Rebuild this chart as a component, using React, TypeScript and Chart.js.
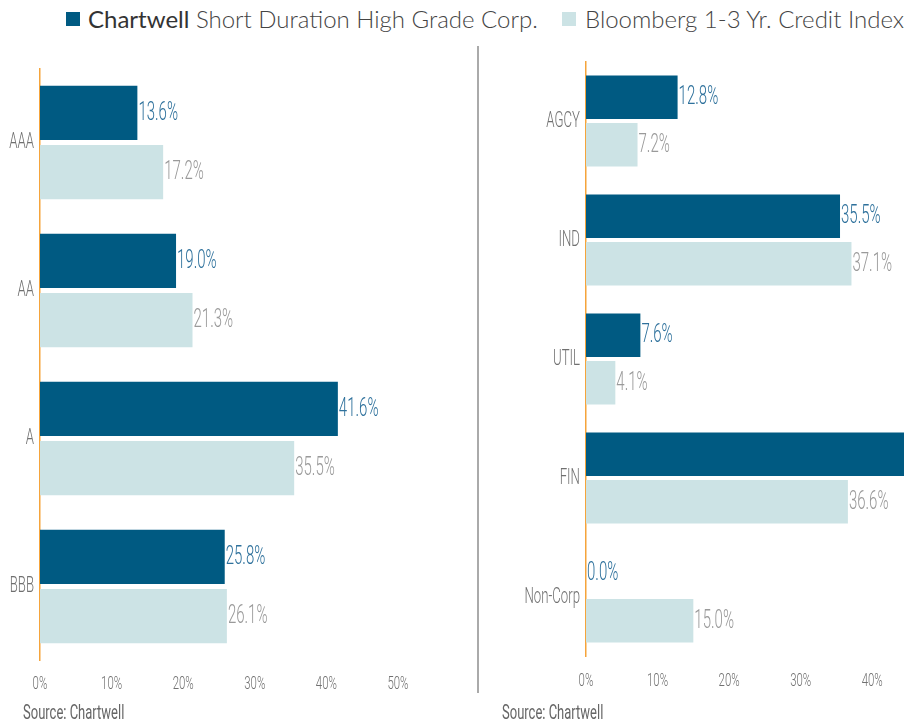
import React, { useEffect, useRef } from "react";
import { Chart, registerables } from "chart.js";

Chart.register(...registerables);

// ---- data ----
const seriesNames = ["Chartwell Short Duration High Grade Corp.", "Bloomberg 1-3 Yr. Credit Index"];
const ratingCategories = ["AAA", "AA", "A", "BBB"];
const ratingChartwell = [13.6, 19.0, 41.6, 25.8];
const ratingBloomberg = [17.2, 21.3, 35.5, 26.1];
const sectorCategories = ["AGCY", "IND", "UTIL", "FIN", "Non-Corp"];
const sectorChartwell = [12.8, 35.5, 7.6, 44.6, 0.0];
const sectorBloomberg = [7.2, 37.1, 4.1, 36.6, 15.0];
const ratingAxisMax = 50;
const sectorAxisMax = 45;
const tickStep = 10;
const sourceText = "Source: Chartwell";

// ---- styles ----
const DARK = "#005A82";
const LIGHT = "#CCE3E5";
const DARK_LABEL = "#2E719C";
const GRAY_LABEL = "#9A9A9A";
const AXIS_TEXT = "#707070";
const AXIS_LINE = "#F5A43B";
const FONT = "Roboto";
const CONDENSE = 0.6;

function condense(ctx: CanvasRenderingContext2D, factor: number) {
  const orig = ctx.fillText.bind(ctx);
  (ctx as any).fillText = (text: string, x: number, y: number) => {
    ctx.save();
    ctx.translate(x, y);
    ctx.scale(factor, 1);
    orig(text, 0, 0);
    ctx.restore();
  };
}

const valueLabels = {
  id: "valueLabels",
  afterDatasetsDraw(chart: any) {
    const ctx = chart.ctx;
    chart.data.datasets.forEach((ds: any, di: number) => {
      const meta = chart.getDatasetMeta(di);
      meta.data.forEach((bar: any, i: number) => {
        const v = ds.data[i];
        ctx.save();
        ctx.font = `300 25px ${FONT}`;
        ctx.fillStyle = di === 0 ? DARK_LABEL : GRAY_LABEL;
        ctx.textAlign = "left";
        ctx.textBaseline = "middle";
        ctx.fillText(v.toFixed(1) + "%", bar.x + 1, bar.y + 1);
        ctx.restore();
      });
    });
  },
};

type PanelProps = {
  categories: string[];
  a: number[];
  b: number[];
  max: number;
  left: number;
  top: number;
  width: number;
  height: number;
  padding: { top: number; right: number; bottom: number; left: number };
  yWidth: number;
  yPad: number;
  xPad: number;
};

function BarPanel(p: PanelProps) {
  const ref = useRef<HTMLCanvasElement>(null);
  useEffect(() => {
    const canvas = ref.current!;
    const ctx = canvas.getContext("2d")!;
    condense(ctx, CONDENSE);
    const chart = new Chart(ctx, {
      type: "bar",
      data: {
        labels: p.categories,
        datasets: [
          { label: seriesNames[0], data: p.a, backgroundColor: DARK, categoryPercentage: 0.8, barPercentage: 0.915 },
          { label: seriesNames[1], data: p.b, backgroundColor: LIGHT, categoryPercentage: 0.8, barPercentage: 0.915 },
        ],
      },
      options: {
        indexAxis: "y",
        responsive: false,
        animation: false,
        layout: { padding: p.padding },
        plugins: { legend: { display: false }, tooltip: { enabled: false } },
        scales: {
          x: {
            min: 0,
            max: p.max,
            grid: { display: false, drawTicks: false },
            border: { display: false },
            ticks: {
              stepSize: tickStep,
              color: AXIS_TEXT,
              padding: p.xPad,
              font: { family: FONT, size: 19, weight: "300" },
              callback: (v: any) => v + "%",
            },
            afterBuildTicks: (s: any) => {
              s.ticks = s.ticks.filter((t: any) => t.value % tickStep === 0);
            },
            afterFit: (s: any) => {
              s.height = 40;
            },
          },
          y: {
            grid: { display: false, drawTicks: false },
            border: { display: true, color: AXIS_LINE, width: 1.5 },
            ticks: {
              color: AXIS_TEXT,
              padding: p.yPad,
              font: { family: FONT, size: 22, weight: "300" },
            },
            afterFit: (s: any) => {
              s.width = p.yWidth;
            },
          },
        },
      } as any,
      plugins: [valueLabels],
    });
    return () => chart.destroy();
  }, []);
  return (
    <canvas
      ref={ref}
      width={p.width}
      height={p.height}
      style={{ position: "absolute", left: p.left, top: p.top, width: p.width, height: p.height }}
    />
  );
}

const legendText: React.CSSProperties = {
  position: "absolute",
  top: 4,
  fontFamily: "Lato",
  fontSize: 24,
  fontWeight: 300,
  color: "#444",
  whiteSpace: "nowrap",
  lineHeight: "30px",
};

export default function App() {
  return (
    <div
      style={{
        position: "fixed",
        left: 0,
        top: 0,
        width: 904,
        height: 719,
        overflow: "hidden",
        background: "#fff",
      }}
    >
      {/* legend */}
      <div style={{ position: "absolute", left: 66, top: 12, width: 14, height: 14, background: DARK }} />
      <div style={{ ...legendText, left: 88 }}>
        <span style={{ fontWeight: 400, color: "#333" }}>Chartwell</span> Short Duration High Grade Corp.
      </div>
      <div style={{ position: "absolute", left: 562, top: 12, width: 14, height: 14, background: LIGHT }} />
      <div style={{ ...legendText, left: 585 }}>{seriesNames[1]}</div>

      {/* divider */}
      <div style={{ position: "absolute", left: 477, top: 46, width: 2, height: 647, background: "#AAAAAA" }} />

      <BarPanel
        categories={ratingCategories}
        a={ratingChartwell}
        b={ratingBloomberg}
        max={ratingAxisMax}
        left={0}
        top={40}
        width={478}
        height={670}
        padding={{ top: 28.5, right: 80, bottom: 9.5, left: 0 }}
        yWidth={40}
        yPad={6}
        xPad={12}
      />
      <BarPanel
        categories={sectorCategories}
        a={sectorChartwell}
        b={sectorBloomberg}
        max={sectorAxisMax}
        left={480}
        top={40}
        width={488}
        height={670}
        padding={{ top: 21.5, right: 60, bottom: 13.5, left: 0 }}
        yWidth={106}
        yPad={6}
        xPad={13}
      />

      {/* sources */}
      {[23, 502].map((x) => (
        <div
          key={x}
          style={{
            position: "absolute",
            left: x,
            top: 700,
            fontFamily: FONT,
            fontSize: 20,
            fontWeight: 400,
            color: "#666",
            whiteSpace: "nowrap",
            lineHeight: "24px",
            transform: "scaleX(0.65)",
            transformOrigin: "left center",
          }}
        >
          {sourceText}
        </div>
      ))}
    </div>
  );
}
